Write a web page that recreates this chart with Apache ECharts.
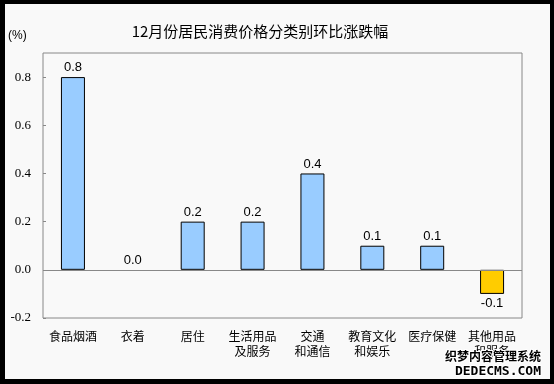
<!DOCTYPE html>
<html><head><meta charset="utf-8">
<script src="https://cdn.jsdelivr.net/npm/echarts@6/dist/echarts.min.js"></script>
<style>html,body{margin:0;padding:0;background:#000;}#c{width:554px;height:384px;}</style>
</head><body><div id="c"></div>
<script>
const categories = ['食品烟酒','衣着','居住','生活用品\n及服务','交通\n和通信','教育文化\n和娱乐','医疗保健','其他用品\n和服务'];
const values = [0.8, 0.0, 0.2, 0.2, 0.4, 0.1, 0.1, -0.1];
const yTicks = [-0.2, 0.0, 0.2, 0.4, 0.6, 0.8];
const titleText = '12月份居民消费价格分类别环比涨跌幅';
const unitText = '(%)';

const chart = echarts.init(document.getElementById('c'));
chart.setOption({
  backgroundColor: '#000',
  animation: false,
  graphic: [
    {type:'rect', shape:{x:5,y:4,width:545,height:375}, style:{fill:'#f9f9f9'}, z:-10, silent:true},
    {type:'text', left:8, top:30, style:{text:unitText, font:'12px "Liberation Sans"', fill:'#000'}},
    {type:'text', right:12, top:349, z:100, style:{text:'织梦内容管理系统', font:'bold 12px "Noto Sans CJK SC"', fill:'#000', stroke:'#fff', lineWidth:2}},
    {type:'text', right:12, top:364, z:100, style:{text:'DEDECMS.COM', font:'bold 13px "DejaVu Sans Mono"', fill:'#000', stroke:'#fff', lineWidth:2}}
  ],
  title: {
    text: titleText, left: 255, top: 19, textAlign: 'center',
    textStyle: {fontSize: 15, fontWeight: 'normal', color: '#000', fontFamily: '"Noto Sans CJK SC"'}
  },
  grid: {left: 43, right: 32, top: 53, bottom: 66, show: true, borderColor: '#888', borderWidth: 1, backgroundColor: 'transparent'},
  xAxis: {
    type: 'category', data: categories, position: 'bottom',
    axisLine: {show: false, onZero: false},
    axisTick: {show: false},
    axisLabel: {interval: 0, color: '#000', fontSize: 12, fontFamily: '"Noto Sans CJK SC"', lineHeight: 15, margin: 11}
  },
  yAxis: {
    type: 'value', min: -0.2, max: 0.9, interval: 0.2,
    axisLine: {show: false},
    axisTick: {show: true, inside: true, length: 3, lineStyle: {color: '#888'}},
    splitLine: {show: false},
    axisLabel: {showMaxLabel: false, color: '#000', fontSize: 13, fontFamily: 'Liberation Serif, serif', margin: 12,
      formatter: v => yTicks.some(t => Math.abs(t - v) < 1e-9) ? v.toFixed(1) : ''}
  },
  series: [{
    type: 'bar', barWidth: 24,
    data: values.map(v => ({
      value: v,
      itemStyle: {color: v < 0 ? '#FFCC00' : '#99CCFF', borderWidth: v === 0 ? 0 : 1},
      label: {position: v < 0 ? 'bottom' : 'top'}
    })),
    itemStyle: {borderColor: '#000', borderWidth: 1},
    label: {show: true, formatter: p => p.value.toFixed(1), color: '#000', fontSize: 13, fontFamily: '"Liberation Sans"', distance: 3},
    markLine: {
      silent: true, symbol: 'none', label: {show: false},
      lineStyle: {color: '#888', width: 1, type: 'solid'},
      data: [{yAxis: 0}]
    }
  }]
});
</script></body></html>
